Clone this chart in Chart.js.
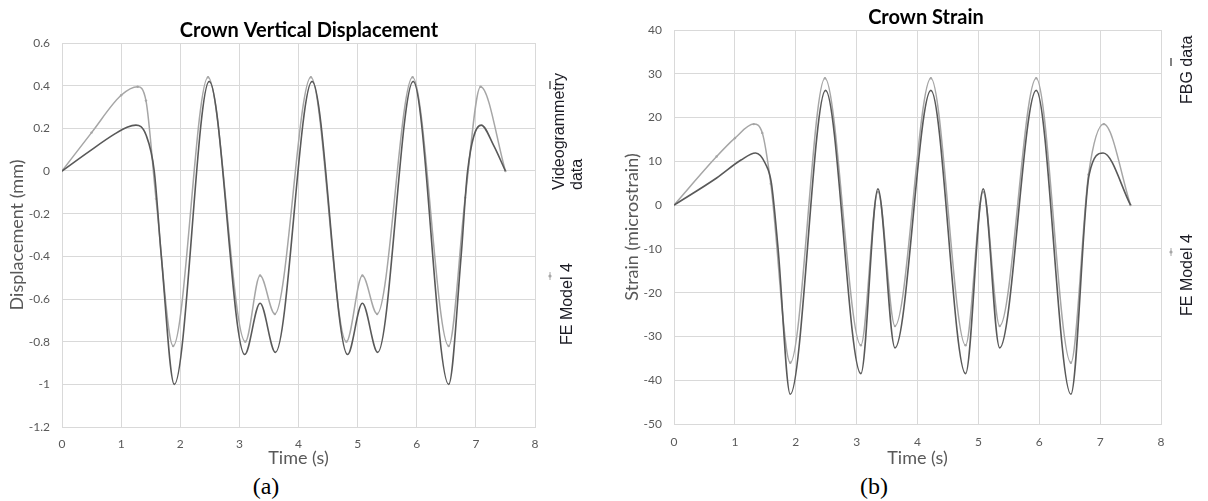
<!DOCTYPE html>
<html>
<head>
<meta charset="utf-8">
<title>Crown displacement and strain</title>
<script src="https://cdn.jsdelivr.net/npm/chart.js@4.4.1/dist/chart.umd.min.js"></script>
<style>
  html, body { margin: 0; padding: 0; background: #fff; }
  #fig { position: relative; width: 1208px; height: 501px; overflow: hidden; background: #fff; }
  canvas { position: absolute; top: 0; }
  #chartA { left: 0; }
  #chartB { left: 600px; }
  .cap {
    position: absolute; top: 486px;
    font-family: "Liberation Serif", "DejaVu Serif", serif; font-size: 24px; color: #000;
    transform: translate(-50%, -50%); white-space: nowrap;
  }
</style>
</head>
<body>
<div id="fig">
  <canvas id="chartA" width="600" height="472"></canvas>
  <canvas id="chartB" width="608" height="472"></canvas>
  <div class="cap" style="left:266px">(a)</div>
  <div class="cap" style="left:874px">(b)</div>
</div>
<script>
  // ── Panel (a): crown vertical displacement (mm) ──────────────────────────
  const timeVideo = [0, 0.45, 0.9, 1.1, 1.25, 1.42, 1.56, 1.68, 1.9, 2.49, 3.09, 3.35, 3.61, 4.23, 4.83, 5.08, 5.34, 5.94, 6.54, 6.75, 6.86, 7.09, 7.3, 7.5];
  const dispVideo = [0, 0.09, 0.175, 0.205, 0.215, 0.17, 0.0, -0.4, -1.0, 0.42, -0.86, -0.62, -0.85, 0.42, -0.86, -0.62, -0.85, 0.42, -1.0, -0.4, 0.0, 0.215, 0.12, 0];

  const timeFeA = [0, 0.5, 1.0, 1.28, 1.42, 1.59, 1.88, 2.47, 3.1, 3.35, 3.6, 4.21, 4.81, 5.08, 5.33, 5.93, 6.54, 6.82, 7.08, 7.5];
  const dispFeA = [0, 0.18, 0.355, 0.395, 0.33, -0.13, -0.82, 0.44, -0.8, -0.49, -0.67, 0.44, -0.8, -0.49, -0.67, 0.44, -0.82, -0.125, 0.395, 0];

  // ── Panel (b): crown strain (microstrain) ────────────────────────────────
  const timeFbg   = [0, 0.7, 1.1, 1.34, 1.5, 1.6, 1.71, 1.91, 2.49, 3.07, 3.35, 3.63, 4.22, 4.79, 5.08, 5.35, 5.95, 6.52, 6.82, 7.05, 7.5];
  const strainFbg = [0, 6.2, 10.3, 11.9, 9.5, 5, -10, -43.2, 26.2, -38.5, 3.7, -32.6, 26.2, -38.5, 3.7, -32.6, 26.2, -43.2, 7, 11.9, 0];

  const timeFeB   = [0, 0.7, 1.0, 1.31, 1.45, 1.59, 1.91, 2.48, 3.07, 3.35, 3.63, 4.22, 4.79, 5.08, 5.35, 5.95, 6.52, 6.81, 7.06, 7.5];
  const strainFeB = [0, 11.1, 15.3, 18.5, 16.5, 4.9, -36, 29, -32, 3, -27.6, 29, -32, 3, -27.6, 29, -36, 7, 18.5, 0];

  // ── Tick labels ──────────────────────────────────────────────────────────
  const xTickLabels  = ['0', '1', '2', '3', '4', '5', '6', '7', '8'];
  const yTickLabelsA = ['0.6', '0.4', '0.2', '0', '-0.2', '-0.4', '-0.6', '-0.8', '-1', '-1.2'];
  const yTickLabelsB = ['40', '30', '20', '10', '0', '-10', '-20', '-30', '-40', '-50'];

  const DARK  = '#595959';
  const LIGHT = '#A6A6A6';
  const GRID  = '#D9D9D9';
  const LABEL = '#595959';
  const FONT  = "Lato, 'Open Sans', sans-serif";

  Chart.defaults.font.family = FONT;
  Chart.defaults.color = LABEL;

  const pts = (xs, ys) => xs.map((x, i) => ({ x, y: ys[i] }));

  // title + rotated legend, drawn on top of the plot
  function decor(conf) {
    return {
      id: 'decor',
      afterDraw(chart) {
        const ctx = chart.ctx;
        ctx.save();
        ctx.fillStyle = '#000';
        ctx.font = `bold 20px ${FONT}`;
        ctx.textAlign = 'center';
        ctx.textBaseline = 'alphabetic';
        ctx.fillText(conf.title, conf.titleX, conf.titleY);

        conf.entries.forEach(e => {
          ctx.strokeStyle = e.color;
          ctx.lineWidth = e.dot ? 1 : 1.5;
          ctx.beginPath();
          ctx.moveTo(e.mx, e.my - 4);
          ctx.lineTo(e.mx, e.my + 4);
          ctx.stroke();
          if (e.dot) {
            ctx.fillStyle = e.color;
            ctx.beginPath();
            ctx.arc(e.mx, e.my, 1.6, 0, Math.PI * 2);
            ctx.fill();
          }
          ctx.save();
          ctx.translate(e.tx, e.ty);
          ctx.rotate(-Math.PI / 2);
          ctx.fillStyle = '#1c1c24';
          ctx.font = "16px 'Liberation Sans', Arial, sans-serif";
          ctx.textAlign = 'left';
          ctx.textBaseline = 'middle';
          e.lines.forEach((l, i) => ctx.fillText(l, 0, i * 18));
          ctx.restore();
        });
        ctx.restore();
      }
    };
  }

  function makePanel(id, p) {
    return new Chart(document.getElementById(id), {
      type: 'line',
      data: {
        datasets: [
          {
            label: p.darkLabel,
            data: pts(p.darkX, p.darkY),
            borderColor: DARK,
            borderWidth: 1.6,
            pointRadius: 0,
            cubicInterpolationMode: 'monotone',
          },
          {
            label: 'FE Model 4',
            data: pts(p.lightX, p.lightY),
            borderColor: LIGHT,
            borderWidth: 1.5,
            pointRadius: 1.2,
            pointBorderWidth: 0,
            pointBackgroundColor: LIGHT,
            cubicInterpolationMode: 'monotone',
          }
        ]
      },
      options: {
        responsive: false,
        animation: false,
        events: [],
        layout: { padding: { left: 0, right: p.padRight, top: p.plotTop, bottom: 0 } },
        scales: {
          x: {
            type: 'linear',
            min: 0, max: 8,
            afterBuildTicks: s => { s.ticks = xTickLabels.map(v => ({ value: parseFloat(v) })); },
            afterFit: s => { s.height = p.xAxisHeight; },
            grid: { color: GRID, lineWidth: 1, drawTicks: false },
            border: { color: GRID },
            ticks: {
              color: LABEL, font: { size: 12 }, padding: p.xTickPad,
              autoSkip: false, maxRotation: 0,
              callback: (v, i) => xTickLabels[i]
            },
            title: {
              display: true, text: 'Time (s)', color: LABEL,
              font: { size: 18 }, padding: { top: 0, bottom: 3 }
            }
          },
          y: {
            min: p.yMin, max: p.yMax,
            afterBuildTicks: s => { s.ticks = p.yLabels.map(v => ({ value: parseFloat(v) })); },
            afterFit: s => { s.width = p.yAxisWidth; },
            grid: { color: GRID, lineWidth: 1, drawTicks: false },
            border: { color: GRID },
            ticks: {
              color: LABEL, font: { size: 12 }, padding: 12,
              autoSkip: false,
              callback: (v, i) => p.yLabels[i]
            },
            title: {
              display: true, text: p.yTitle, color: LABEL,
              font: { size: 18 }, padding: { top: p.yTitlePad, bottom: 0 }
            }
          }
        },
        plugins: {
          legend: { display: false },
          tooltip: { enabled: false },
          title: { display: false }
        }
      },
      plugins: [decor(p.decor)]
    });
  }

  makePanel('chartA', {
    darkLabel: 'Videogrammetry data',
    darkX: timeVideo, darkY: dispVideo,
    lightX: timeFeA, lightY: dispFeA,
    yMin: -1.2, yMax: 0.6, yLabels: yTickLabelsA,
    yTitle: 'Displacement (mm)', yTitlePad: 6,
    plotTop: 43, padRight: 65, yAxisWidth: 62, xAxisHeight: 45, xTickPad: 10,
    decor: {
      title: 'Crown Vertical Displacement', titleX: 309, titleY: 37,
      entries: [
        { color: DARK,  dot: false, mx: 550, my: 85,  tx: 560, ty: 190, lines: ['Videogrammetry', 'data'] },
        { color: LIGHT, dot: true,  mx: 550, my: 276, tx: 568, ty: 345, lines: ['FE Model 4'] }
      ]
    }
  });

  makePanel('chartB', {
    darkLabel: 'FBG data',
    darkX: timeFbg, darkY: strainFbg,
    lightX: timeFeB, lightY: strainFeB,
    yMin: -50, yMax: 40, yLabels: yTickLabelsB,
    yTitle: 'Strain (microstrain)', yTitlePad: 21,
    plotTop: 30, padRight: 47, yAxisWidth: 74, xAxisHeight: 48, xTickPad: 11,
    decor: {
      title: 'Crown Strain', titleX: 326, titleY: 24,
      entries: [
        { color: DARK,  dot: false, mx: 571, my: 62,  tx: 588, ty: 104, lines: ['FBG data'] },
        { color: LIGHT, dot: true,  mx: 571, my: 252, tx: 588, ty: 316, lines: ['FE Model 4'] }
      ]
    }
  });
</script>
</body>
</html>
